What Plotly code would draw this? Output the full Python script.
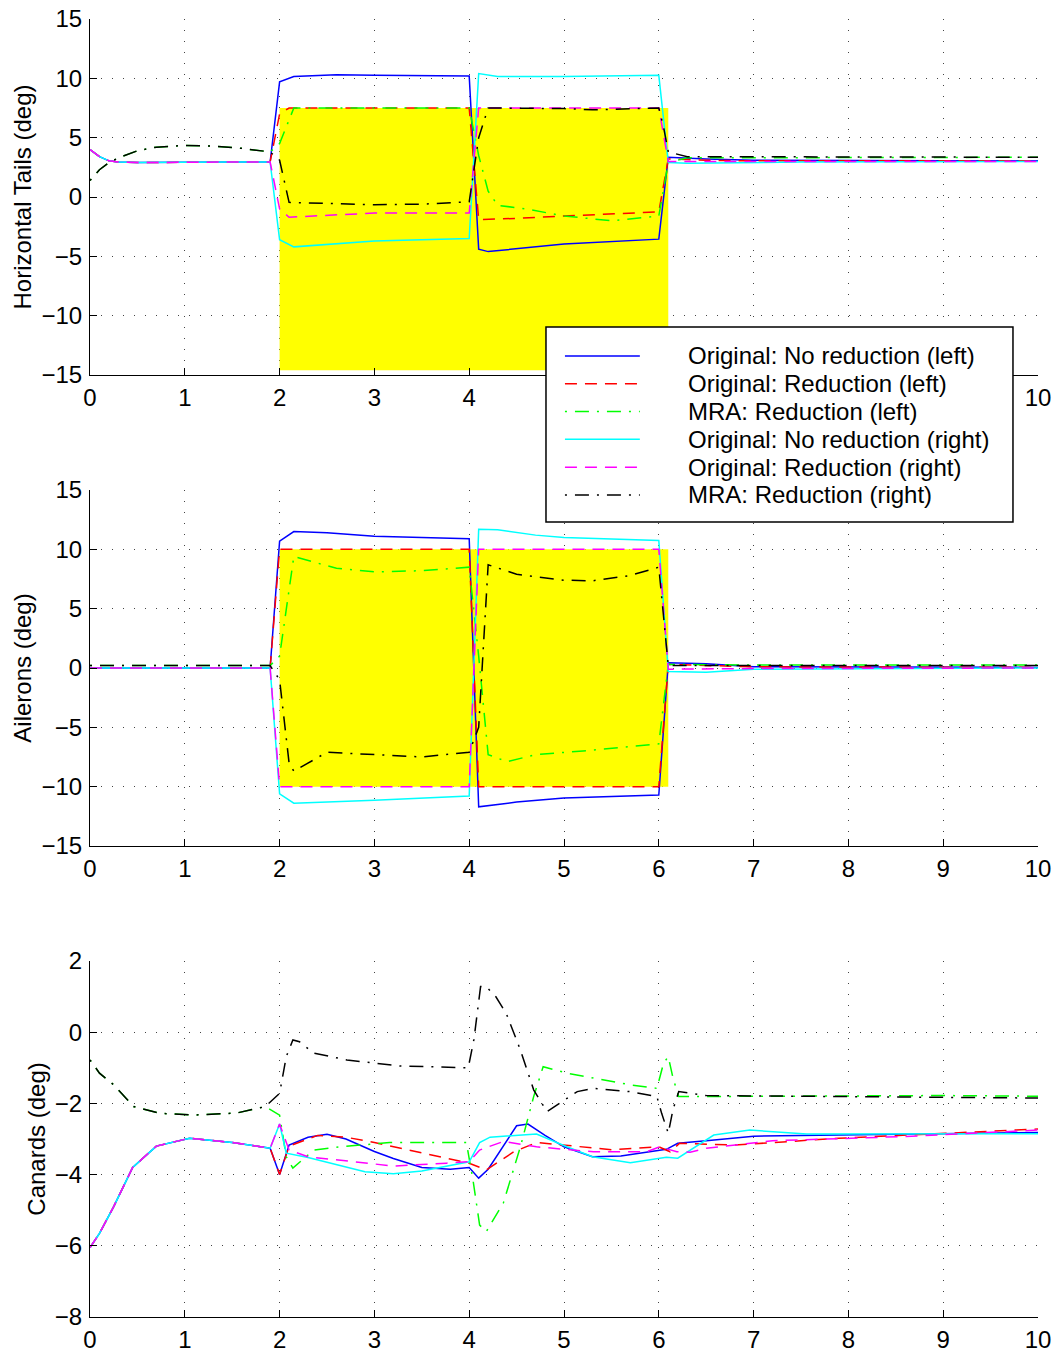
import plotly.graph_objects as go

# ---------------- time stamps / values ----------------
# Horizontal tails (deg)
ht_nrl_t = [0, 0.1, 0.2, 0.3, 0.5, 1.0, 1.5, 1.9, 2.0, 2.15, 2.6, 3.0, 3.5, 4.0, 4.1, 4.2, 5.0, 5.5, 6.0, 6.1, 6.5, 7, 8, 9, 10]
ht_nrl_v = [4.0, 3.4, 3.05, 2.95, 2.9, 2.95, 2.95, 2.95, 9.7, 10.15, 10.3, 10.25, 10.2, 10.2, -4.4, -4.6, -3.95, -3.75, -3.55, 3.35, 3.2, 3.1, 3.05, 3.05, 3.05]
ht_rl_t = [0, 0.1, 0.2, 0.3, 0.5, 1.0, 1.5, 1.9, 2.0, 2.1, 3.0, 4.0, 4.1, 4.5, 5.0, 5.5, 6.0, 6.1, 6.5, 7, 10]
ht_rl_v = [4.0, 3.4, 3.05, 2.95, 2.9, 2.95, 2.95, 2.95, 7.0, 7.5, 7.5, 7.5, -1.9, -1.8, -1.6, -1.45, -1.25, 3.2, 3.1, 3.05, 3.05]
ht_ml_t = [0, 0.1, 0.2, 0.3, 0.5, 0.7, 1.0, 1.3, 1.6, 1.9, 2.0, 2.1, 2.15, 3.0, 4.0, 4.1, 4.2, 4.3, 4.6, 5.0, 5.5, 6.0, 6.1, 6.3, 10]
ht_ml_v = [1.4, 2.3, 2.9, 3.3, 3.9, 4.2, 4.35, 4.3, 4.1, 3.8, 4.5, 6.5, 7.5, 7.5, 7.5, 3.5, 0.5, -0.7, -1.0, -1.6, -2.0, -1.6, 2.9, 3.3, 3.35]
ht_nrr_t = [0, 0.1, 0.2, 0.3, 0.5, 1.0, 1.5, 1.9, 2.0, 2.15, 3.0, 4.0, 4.1, 4.3, 5.0, 6.0, 6.1, 6.3, 6.8, 7.5, 10]
ht_nrr_v = [4.0, 3.4, 3.05, 2.95, 2.9, 2.95, 2.95, 2.95, -3.6, -4.2, -3.7, -3.5, 10.4, 10.15, 10.15, 10.25, 2.9, 2.85, 2.9, 2.95, 3.0]
ht_rr_t = [0, 0.1, 0.2, 0.3, 0.5, 1.0, 1.5, 1.9, 2.0, 2.1, 3.0, 4.0, 4.1, 5.0, 6.0, 6.1, 7, 10]
ht_rr_v = [4.0, 3.4, 3.05, 2.95, 2.9, 2.95, 2.95, 2.95, -1.0, -1.7, -1.35, -1.35, 7.5, 7.5, 7.5, 3.0, 3.0, 3.0]
ht_mr_t = [0, 0.1, 0.2, 0.3, 0.5, 0.7, 1.0, 1.3, 1.6, 1.9, 2.0, 2.1, 3.0, 3.5, 4.0, 4.1, 4.2, 5.0, 5.3, 6.0, 6.05, 6.1, 6.3, 10]
ht_mr_v = [1.4, 2.3, 2.9, 3.3, 3.9, 4.2, 4.35, 4.3, 4.1, 3.8, 3.1, -0.45, -0.65, -0.6, -0.4, 5.0, 7.5, 7.45, 7.35, 7.5, 5.9, 3.8, 3.4, 3.35]

# Ailerons (deg)
ai_nrl_t = [0, 1.9, 2.0, 2.15, 2.5, 3.0, 3.5, 4.0, 4.1, 4.5, 5.0, 5.5, 6.0, 6.1, 6.5, 7.0, 10]
ai_nrl_v = [0, 0, 10.7, 11.5, 11.4, 11.1, 11.0, 10.9, -11.7, -11.3, -10.95, -10.85, -10.7, 0.45, 0.35, 0.1, 0.05]
ai_rl_t = [0, 1.9, 2.0, 4.0, 4.1, 6.0, 6.1, 6.5, 7.0, 10]
ai_rl_v = [0, 0, 10, 10, -10, -10, 0.3, 0.2, 0.1, 0.05]
ai_ml_t = [0, 1.9, 2.0, 2.15, 2.6, 3.0, 3.5, 4.0, 4.1, 4.2, 4.4, 4.7, 5.2, 5.9, 6.0, 6.1, 7.0, 10]
ai_ml_v = [0.2, 0.2, 1.0, 9.4, 8.4, 8.1, 8.2, 8.5, 1.0, -7.3, -7.9, -7.3, -7.0, -6.5, -6.4, 0.3, 0.25, 0.25]
ai_nrr_t = [0, 1.9, 2.0, 2.15, 3.0, 4.0, 4.1, 4.3, 4.7, 5.0, 6.0, 6.1, 6.5, 7.0, 10]
ai_nrr_v = [0, 0, -10.6, -11.4, -11.15, -10.8, 11.7, 11.65, 11.2, 11.0, 10.75, -0.3, -0.35, -0.1, 0]
ai_rr_t = [0, 1.9, 2.0, 4.0, 4.1, 6.0, 6.1, 7.0, 10]
ai_rr_v = [0, 0, -10, -10, 10, 10, -0.1, -0.05, 0]
ai_mr_t = [0, 1.9, 2.0, 2.1, 2.15, 2.5, 3.0, 3.5, 4.0, 4.1, 4.2, 4.5, 5.0, 5.3, 5.7, 6.0, 6.1, 10]
ai_mr_v = [0.2, 0.2, -1.0, -8.0, -8.7, -7.1, -7.3, -7.5, -7.1, -5.0, 8.7, 7.9, 7.4, 7.35, 7.8, 8.5, 0.2, 0.2]

# Canards (deg)
ca_nrl_t = [0, 0.1, 0.25, 0.45, 0.7, 1.05, 1.5, 1.9, 2.0, 2.1, 2.3, 2.5, 2.7, 3.0, 3.2, 3.5, 3.8, 4.0, 4.1, 4.2, 4.5, 4.62, 4.8, 5.0, 5.3, 5.6, 6.08, 6.2, 6.5, 7.0, 7.9, 10]
ca_nrl_v = [-6.05, -5.65, -4.9, -3.8, -3.2, -2.98, -3.1, -3.26, -4.0, -3.17, -2.95, -2.87, -3.0, -3.35, -3.55, -3.8, -3.85, -3.8, -4.1, -3.85, -2.63, -2.58, -2.9, -3.22, -3.5, -3.48, -3.29, -3.12, -3.05, -2.92, -2.89, -2.82]
ca_rl_t = [0, 0.1, 0.25, 0.45, 0.7, 1.05, 1.5, 1.9, 2.0, 2.1, 2.4, 2.7, 3.0, 3.5, 4.0, 4.18, 4.47, 4.71, 5.0, 5.5, 6.0, 6.12, 6.22, 6.8, 7.9, 10]
ca_rl_v = [-6.05, -5.65, -4.9, -3.8, -3.2, -2.98, -3.1, -3.26, -4.0, -3.2, -2.9, -2.95, -3.1, -3.4, -3.68, -3.87, -3.36, -3.1, -3.17, -3.3, -3.22, -3.36, -3.12, -3.17, -2.98, -2.72]
ca_ml_t = [0, 0.1, 0.25, 0.46, 0.74, 1.09, 1.55, 1.85, 2.0, 2.07, 2.14, 2.36, 2.64, 3.16, 3.97, 4.04, 4.11, 4.18, 4.36, 4.54, 4.68, 4.78, 5.03, 5.31, 5.7, 5.98, 6.05, 6.1, 6.15, 6.21, 7, 8, 9, 10]
ca_ml_v = [-0.78, -1.15, -1.48, -2.09, -2.28, -2.33, -2.27, -2.09, -2.33, -3.5, -3.82, -3.31, -3.22, -3.1, -3.1, -4.15, -5.42, -5.6, -4.8, -3.22, -1.81, -0.97, -1.15, -1.29, -1.48, -1.58, -0.87, -0.69, -1.29, -1.81, -1.8, -1.78, -1.78, -1.8]
ca_nrr_t = [0, 0.1, 0.25, 0.45, 0.7, 1.05, 1.5, 1.9, 2.0, 2.07, 2.3, 2.9, 3.2, 3.5, 4.0, 4.11, 4.22, 4.71, 5.03, 5.3, 5.7, 6.08, 6.2, 6.58, 6.96, 7.56, 10]
ca_nrr_v = [-6.05, -5.65, -4.9, -3.8, -3.2, -2.98, -3.1, -3.26, -2.58, -3.4, -3.52, -3.92, -3.98, -3.9, -3.64, -3.1, -2.95, -2.86, -3.22, -3.5, -3.67, -3.51, -3.54, -2.89, -2.75, -2.86, -2.85]
ca_rr_t = [0, 0.1, 0.25, 0.45, 0.7, 1.05, 1.5, 1.9, 2.0, 2.1, 2.3, 3.0, 3.2, 3.76, 4.0, 4.11, 4.36, 4.71, 5.31, 5.87, 6.01, 6.19, 6.33, 6.5, 7.2, 8.6, 10]
ca_rr_v = [-6.05, -5.65, -4.9, -3.8, -3.2, -2.98, -3.1, -3.26, -2.58, -3.31, -3.5, -3.7, -3.76, -3.68, -3.64, -3.31, -3.07, -3.22, -3.36, -3.36, -3.22, -3.36, -3.37, -3.26, -3.05, -2.93, -2.75]
ca_mr_t = [0, 0.1, 0.25, 0.46, 0.74, 1.09, 1.55, 1.85, 2.0, 2.07, 2.14, 2.21, 2.36, 2.71, 3.27, 3.99, 4.05, 4.12, 4.18, 4.28, 4.39, 4.54, 4.68, 4.82, 5.14, 5.31, 5.7, 5.98, 6.03, 6.1, 6.15, 6.21, 6.5, 10]
ca_mr_v = [-0.78, -1.15, -1.48, -2.09, -2.28, -2.33, -2.27, -2.09, -1.72, -0.69, -0.22, -0.27, -0.59, -0.78, -0.95, -1.0, -0.2, 1.28, 1.28, 1.0, 0.53, -0.5, -1.62, -2.23, -1.67, -1.58, -1.67, -1.81, -2.28, -2.84, -2.17, -1.67, -1.78, -1.85]

# saturation regions (yellow)
sat_t = [2.0, 6.1]
ht_sat = [-14.6, 7.5]
ai_sat = [-10.0, 10.0]

# x tick labels (top panel: labels 5-9 are hidden behind the legend box)
x_tickvals = [0, 1, 2, 3, 4, 5, 6, 7, 8, 9, 10]
x_ticktext_full = ["0", "1", "2", "3", "4", "5", "6", "7", "8", "9", "10"]
x_ticktext_top = ["0", "1", "2", "3", "4", "", "", "", "", "", "10"]

series_names = [
    "Original: No reduction (left)",
    "Original: Reduction (left)",
    "MRA: Reduction (left)",
    "Original: No reduction (right)",
    "Original: Reduction (right)",
    "MRA: Reduction (right)",
]

# ---------------- styles ----------------
DASH = "12px,8px"
DASHDOT = "2px,8px,14px,8px"
styles = [
    dict(color="#0000ff", dash="solid"),
    dict(color="#ff0000", dash=DASH),
    dict(color="#00ff00", dash=DASHDOT),
    dict(color="#00ffff", dash="solid"),
    dict(color="#ff00ff", dash=DASH),
    dict(color="#000000", dash=DASHDOT),
]

panels = [
    ([(ht_nrl_t, ht_nrl_v), (ht_rl_t, ht_rl_v), (ht_ml_t, ht_ml_v),
      (ht_nrr_t, ht_nrr_v), (ht_rr_t, ht_rr_v), (ht_mr_t, ht_mr_v)], "x", "y"),
    ([(ai_nrl_t, ai_nrl_v), (ai_rl_t, ai_rl_v), (ai_ml_t, ai_ml_v),
      (ai_nrr_t, ai_nrr_v), (ai_rr_t, ai_rr_v), (ai_mr_t, ai_mr_v)], "x2", "y2"),
    ([(ca_nrl_t, ca_nrl_v), (ca_rl_t, ca_rl_v), (ca_ml_t, ca_ml_v),
      (ca_nrr_t, ca_nrr_v), (ca_rr_t, ca_rr_v), (ca_mr_t, ca_mr_v)], "x3", "y3"),
]

FONT = "Liberation Sans, Arial, Helvetica, sans-serif"
FS = 24
fig = go.Figure()

for p, (data, xa, ya) in enumerate(panels):
    for i, (t, v) in enumerate(data):
        fig.add_trace(go.Scatter(
            x=t, y=v, mode="lines", name=series_names[i],
            line=dict(color=styles[i]["color"], dash=styles[i]["dash"], width=1.5),
            xaxis=xa, yaxis=ya, showlegend=False, legendgroup=series_names[i],
        ))

# yellow saturation boxes
for xr, yr, sat in (("x", "y", ht_sat), ("x2", "y2", ai_sat)):
    fig.add_shape(type="rect", xref=xr, yref=yr, x0=sat_t[0], x1=sat_t[1],
                  y0=sat[0], y1=sat[1], fillcolor="#ffff00",
                  line=dict(width=0), layer="between")

# ---------------- legend box (Matlab style, drawn over the axes) ----------------
LEG_X0, LEG_X1, LEG_Y0, LEG_Y1 = 0.4810, 0.9736, 0.6125, 0.7627
LEG_LINE_X = (0.5010, 0.5800)
LEG_TEXT_X = 0.6287
LEG_ROW0, LEG_ROW_STEP = 0.7404, 0.02142
fig.add_shape(type="rect", xref="paper", yref="paper", x0=LEG_X0, x1=LEG_X1,
              y0=LEG_Y0, y1=LEG_Y1, fillcolor="white",
              line=dict(color="black", width=1.5), layer="above")
for i, name in enumerate(series_names):
    yy = LEG_ROW0 - i * LEG_ROW_STEP
    fig.add_shape(type="line", xref="paper", yref="paper",
                  x0=LEG_LINE_X[0], x1=LEG_LINE_X[1], y0=yy, y1=yy,
                  line=dict(color=styles[i]["color"], dash=styles[i]["dash"], width=1.5),
                  layer="above")
    fig.add_annotation(xref="paper", yref="paper", x=LEG_TEXT_X, y=yy,
                       xanchor="left", yanchor="middle", text=name, showarrow=False,
                       font=dict(family=FONT, size=FS, color="black"))

axis_common = dict(
    showline=True, linecolor="black", linewidth=1.2, mirror=False,
    ticks="inside", ticklen=7, tickcolor="black", tickwidth=1,
    showgrid=True, gridcolor="#444444", gridwidth=1, griddash="1px,10px",
    zeroline=False, automargin=False,
    tickfont=dict(family=FONT, size=FS, color="black"),
)

dom = {"": [0.7257, 1.0], "2": [0.3629, 0.6371], "3": [0.0, 0.2743]}
yinfo = {
    "": dict(range=[-15, 15], dtick=5, title="Horizontal Tails (deg)"),
    "2": dict(range=[-15, 15], dtick=5, title="Ailerons (deg)"),
    "3": dict(range=[-8, 2], dtick=2, title="Canards (deg)"),
}
layout_axes = {}
for k in ["", "2", "3"]:
    layout_axes["xaxis" + k] = dict(axis_common, range=[0, 10], tickmode="array",
                                    tickvals=x_tickvals,
                                    ticktext=(x_ticktext_top if k == "" else x_ticktext_full),
                                    anchor="y" + k, domain=[0, 1], ticklabelstandoff=1)
    layout_axes["yaxis" + k] = dict(axis_common, range=yinfo[k]["range"], dtick=yinfo[k]["dtick"],
                                    anchor="x" + k, domain=dom[k], ticklabelstandoff=2,
                                    title=dict(text=yinfo[k]["title"], standoff=2,
                                               font=dict(family=FONT, size=FS, color="black")))

fig.update_layout(
    width=1055, height=1353,
    margin=dict(l=90, r=17, t=19, b=36),
    paper_bgcolor="white", plot_bgcolor="white",
    font=dict(family=FONT, size=FS, color="black"),
    showlegend=False,
    **layout_axes,
)

fig.write_html("out.html", config={"displayModeBar": False},
               post_script="document.body.style.margin='0';")
